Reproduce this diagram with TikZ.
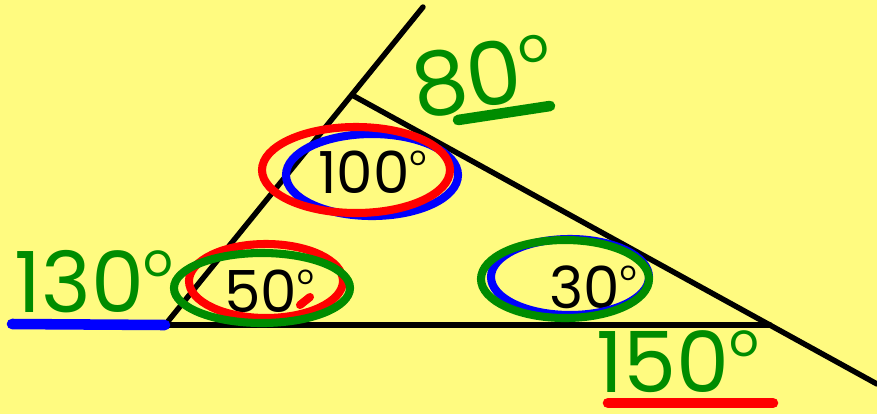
\documentclass[tikz,border=0pt]{standalone}
\usepackage{fontspec}
\setmainfont{Poppins}
\usetikzlibrary{positioning}
\definecolor{paperyellow}{RGB}{255,251,128}
\definecolor{pengreen}{RGB}{0,140,0}
\definecolor{penblue}{RGB}{0,0,255}
\definecolor{penred}{RGB}{255,0,0}
\newcommand{\degmark}{\raisebox{.47em}{\scalebox{.45}{o}}}
\newcommand{\handdeg}{\raisebox{.42em}{\scalebox{.55}{o}}}

\begin{document}
\begin{tikzpicture}[
    x=0.02cm, y=-0.02cm,
    edge/.style={line width=3.1pt, line cap=round},
    ring/.style={line width=4.6pt, line cap=round},
    typed/.style={inner sep=0pt, anchor=base west, font=\fontsize{33}{36}\selectfont},
    hand/.style={inner sep=0pt, anchor=base west, text=pengreen, font=\fontsize{48}{52}\selectfont},
    underline/.style={line width=6pt, line cap=round}
]
    % paper
    \fill[paperyellow] (0,0) rectangle (877,414);
    \useasboundingbox (0,0) rectangle (877,414);

    % Triangle and extended sides
    \coordinate (A) at (165,325);
    \coordinate (B) at (352,95);
    \coordinate (C) at (770,325);
    \coordinate (topend) at (423,7);
    \coordinate (rightend) at (877,384);
    \draw[edge] (A) -- (topend);
    \draw[edge] (B) -- (rightend);
    \draw[edge] (A) -- (C);

    % Interior angles
    \node[typed] (top) at (318,193) {100\degmark};
    \node[typed] (left) at (224,312) {50\degmark};
    \node[typed] (right) at (549,308) {30\degmark};

    % Rings round the interior angles
    \draw[ring, penblue] (372,175) ellipse [x radius=86, y radius=41];
    \draw[ring, penred] (356,170) ellipse [x radius=94, y radius=43];
    \draw[ring, penblue] (570,277) ellipse [x radius=79, y radius=38];
    \draw[ring, penred] (266,281) ellipse [x radius=77, y radius=37];
    \draw[ring, penred] (300,305) -- (310,297);
    \draw[ring, pengreen] (262,288) ellipse [x radius=88, y radius=35];
    \draw[ring, pengreen] (565,279) ellipse [x radius=84, y radius=39];

    % Exterior angles
    \node[hand] (outleft) at (14,312) {130\handdeg};
    \node[hand] (outright) at (596,392) {150\handdeg};
    \node[hand, anchor=center, rotate=9, font=\fontsize{50}{54}\selectfont] (outtop) at (482,76) {80\handdeg};

    % Underlines
    \coordinate (blue0) at (12,324);
    \coordinate (red0) at (608,403);
    \coordinate (red1) at (773,403);
    \coordinate (green0) at (458,120);
    \coordinate (green1) at (550,106);
    \draw[underline, penblue] (blue0) -- (A);
    \draw[underline, penred] (red0) -- (red1);
    \draw[underline, pengreen] (green0) -- (green1);
\end{tikzpicture}
\end{document}
